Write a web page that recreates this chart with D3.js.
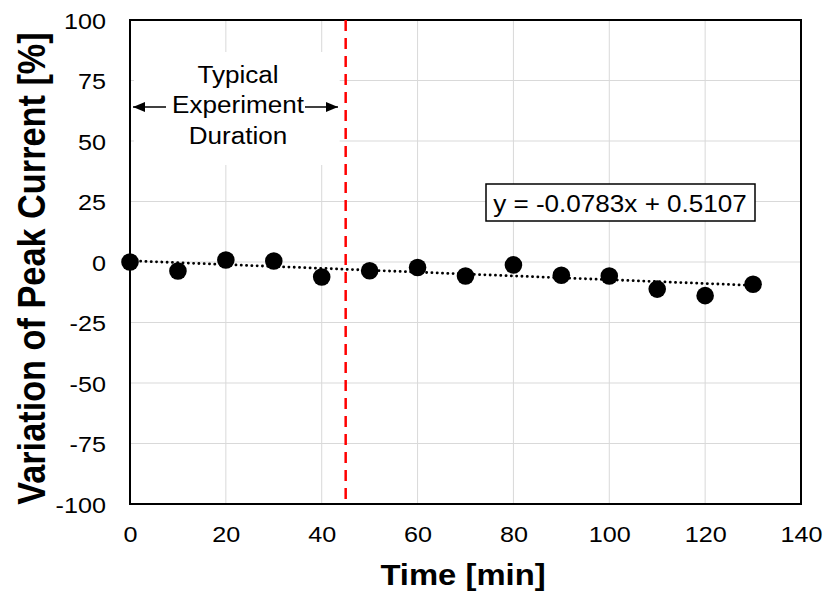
<!DOCTYPE html>
<html>
<head>
<meta charset="utf-8">
<script src="https://cdn.jsdelivr.net/npm/d3@7"></script>
<style>
  body { margin: 0; background: #fff; }
  svg { display: block; font-family: "Liberation Sans", Arial, sans-serif; }
</style>
</head>
<body>
<svg id="chart" width="825" height="596"></svg>
<script>
// Measurements: time in minutes, variation of peak current in percent
const times = [0, 10, 20, 30, 40, 50, 60, 70, 80, 90, 100, 110, 120, 130];
const variation = [0, -3.7, 0.8, 0.4, -6.2, -3.6, -2.3, -5.8, -1.2, -5.5, -5.8, -11.2, -13.9, -9.2];
const xTicks = [0, 20, 40, 60, 80, 100, 120, 140];
const yTicks = [-100, -75, -50, -25, 0, 25, 50, 75, 100];
const fitSlope = -0.0783;
const fitIntercept = 0.5107;
const durationLimit = 45;
const annotationLines = ["Typical", "Experiment", "Duration"];

const svg = d3.select("#chart");
const m = { left: 130, right: 801, top: 20, bottom: 504 };
const wide = 1.12; // horizontal glyph stretch used for all labels

const x = d3.scaleLinear().domain([0, 140]).range([m.left, m.right]);
const y = d3.scaleLinear().domain([-100, 100]).range([m.bottom, m.top]);

// Text helper: places a horizontally stretched label
function label(parent, tx, ty, str, size, anchor, weight) {
  return parent.append("text")
    .attr("transform", `translate(${tx},${ty}) scale(${wide},1)`)
    .attr("text-anchor", anchor || "middle")
    .attr("font-size", size)
    .attr("font-weight", weight || "normal")
    .attr("fill", "#000")
    .text(str);
}

// Grid
const grid = svg.append("g").attr("stroke", "#d9d9d9").attr("stroke-width", 1);
grid.selectAll("line.v").data(xTicks.filter(d => d > 0 && d < 140)).join("line")
  .attr("x1", d => x(d)).attr("x2", d => x(d))
  .attr("y1", m.top).attr("y2", m.bottom);
grid.selectAll("line.h").data(yTicks.filter(d => d > -100 && d < 100)).join("line")
  .attr("x1", m.left).attr("x2", m.right)
  .attr("y1", d => y(d)).attr("y2", d => y(d));

// Annotation background
svg.append("rect")
  .attr("x", m.left + 4).attr("y", 52)
  .attr("width", x(durationLimit) - m.left - 10).attr("height", 113)
  .attr("fill", "#fff");

// Axes (labels only, no tick marks)
const xAxis = d3.axisBottom(x).tickValues(xTicks).tickSize(0).tickPadding(0)
  .tickFormat(d => String(d));
const gx = svg.append("g").attr("transform", `translate(0,${m.bottom})`).call(xAxis);
gx.select(".domain").remove();
gx.selectAll("text")
  .attr("x", null).attr("y", null).attr("dy", null)
  .attr("font-size", 22.5).attr("fill", "#000")
  .attr("transform", `translate(0,38) scale(${wide},1)`);

const yAxis = d3.axisLeft(y).tickValues(yTicks).tickSize(0).tickPadding(0)
  .tickFormat(d => String(d));
const gy = svg.append("g").attr("transform", `translate(${m.left},0)`).call(yAxis);
gy.select(".domain").remove();
gy.selectAll("text")
  .attr("x", null).attr("dy", null)
  .attr("font-size", 22.5).attr("fill", "#000")
  .attr("transform", `translate(-24,8) scale(${wide},1)`);

// Plot border
svg.append("rect")
  .attr("x", m.left).attr("y", m.top)
  .attr("width", m.right - m.left).attr("height", m.bottom - m.top)
  .attr("fill", "none").attr("stroke", "#000").attr("stroke-width", 2);

// Duration marker
svg.append("line")
  .attr("x1", x(durationLimit)).attr("x2", x(durationLimit))
  .attr("y1", m.top).attr("y2", m.bottom)
  .attr("stroke", "#ff0000").attr("stroke-width", 2.5)
  .attr("stroke-dasharray", "11,7");

// Annotation text and arrows
const ann = svg.append("g");
annotationLines.forEach((t, i) => label(ann, 238, 82.5 + i * 30.5, t, 23.3));

const defs = svg.append("defs");
defs.append("marker").attr("id", "arrow")
  .attr("viewBox", "0 0 12 10").attr("refX", 12).attr("refY", 5)
  .attr("markerWidth", 12).attr("markerHeight", 10).attr("markerUnits", "userSpaceOnUse")
  .attr("orient", "auto")
  .append("path").attr("d", "M0,0 L12,5 L0,10 Z").attr("fill", "#000");

const arrowY = 107;
svg.append("line").attr("x1", 166).attr("x2", 133).attr("y1", arrowY).attr("y2", arrowY)
  .attr("stroke", "#000").attr("stroke-width", 1.5).attr("marker-end", "url(#arrow)");
svg.append("line").attr("x1", 305).attr("x2", 338).attr("y1", arrowY).attr("y2", arrowY)
  .attr("stroke", "#000").attr("stroke-width", 1.5).attr("marker-end", "url(#arrow)");

// Linear fit
svg.append("line")
  .attr("x1", x(0)).attr("y1", y(fitIntercept))
  .attr("x2", x(130)).attr("y2", y(fitIntercept + fitSlope * 130))
  .attr("stroke", "#000").attr("stroke-width", 2.8)
  .attr("stroke-linecap", "round").attr("stroke-dasharray", "0.1,5.2");

// Points
svg.append("g").selectAll("circle").data(times).join("circle")
  .attr("cx", d => x(d)).attr("cy", (d, i) => y(variation[i]))
  .attr("r", 8.8).attr("fill", "#000");

// Fit equation label
const eq = svg.append("g");
eq.append("rect").attr("x", 486).attr("y", 184).attr("width", 269).attr("height", 37)
  .attr("fill", "#fff").attr("stroke", "#000").attr("stroke-width", 1.5);
label(eq, 620, 211.5, `y = ${fitSlope}x + ${fitIntercept}`, 23.3);

// Axis titles
label(svg, 463, 585, "Time [min]", 29.3, "middle", "bold");
svg.append("text")
  .attr("transform", `translate(45,268.5) rotate(-90) scale(1,${wide})`)
  .attr("text-anchor", "middle").attr("font-size", 34.3).attr("font-weight", "bold")
  .attr("fill", "#000")
  .text("Variation of Peak Current [%]");
</script>
</body>
</html>
